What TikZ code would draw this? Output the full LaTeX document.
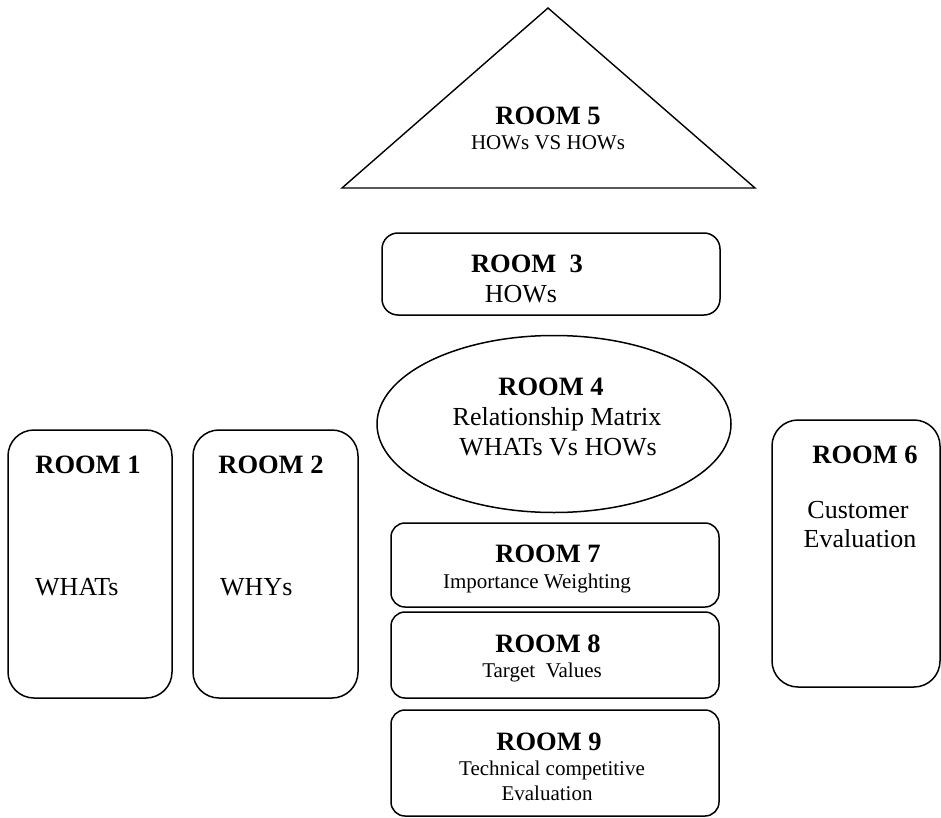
\documentclass[tikz,border=0pt]{standalone}
\usepackage{fontspec}
\setmainfont{Liberation Serif}
\usetikzlibrary{shapes.geometric}
\begin{document}
\begin{tikzpicture}[x=1pt,y=-1pt,
  room/.style={draw=black,line width=1.5pt,rounded corners=#1,inner sep=0pt},
  room/.default=14pt,
  ttl/.style={font=\fontsize{26.5}{30}\selectfont\bfseries,anchor=base,inner sep=0pt},
  big/.style={font=\fontsize{26}{30}\selectfont,anchor=base,inner sep=0pt},
  small/.style={font=\fontsize{21}{25}\selectfont,anchor=base,inner sep=0pt}]
\useasboundingbox (0,0) rectangle (941,818);
% shapes
\draw[line width=1.4pt,line join=miter] (548,8) coordinate (apex) -- (755,188) coordinate (br) -- (342,188) coordinate (bl) -- cycle;
\node[room=16pt,minimum width=338pt,minimum height=82pt] (r3) at (551,274) {};
\node[draw=black,line width=1.5pt,ellipse,minimum width=354pt,minimum height=177pt,inner sep=0pt] (r4) at (554,424) {};
\node[room=26pt,minimum width=164pt,minimum height=268pt] (r1) at (90,564) {};
\node[room=26pt,minimum width=165pt,minimum height=268pt] (r2) at (275.5,564) {};
\node[room=26pt,minimum width=168pt,minimum height=267pt] (r6) at (856,553.5) {};
\node[room,minimum width=328pt,minimum height=84pt] (r7) at (555,565) {};
\node[room,minimum width=328pt,minimum height=86pt] (r8) at (555,655) {};
\node[room,minimum width=328pt,minimum height=106pt] (r9) at (555,763) {};
% texts
\node[ttl] (t5) at (548,125) {ROOM 5};
\node[small] (t5b) at (548,150) {HOWs VS HOWs};
\node[ttl] (t3) at (527,272) {ROOM\ \ 3};
\node[big] (t3b) at (521,302) {HOWs};
\node[ttl] (t4) at (551,395) {ROOM 4};
\node[big] (t4b) at (557,425) {Relationship Matrix};
\node[big] (t4c) at (558,455) {WHATs Vs HOWs};
\node[ttl] (t1) at (88,473) {ROOM 1};
\node[big,anchor=base west] (t1b) at (35,595) {WHATs};
\node[ttl] (t2) at (271,473) {ROOM 2};
\node[big,anchor=base west] (t2b) at (220,595) {WHYs};
\node[ttl] (t6) at (865,463) {ROOM 6};
\node[big] (t6b) at (858,518) {Customer};
\node[big] (t6c) at (860,547) {Evaluation};
\node[ttl] (t7) at (548,562) {ROOM 7};
\node[small] (t7b) at (537,588) {Importance Weighting};
\node[ttl] (t8) at (548,652) {ROOM 8};
\node[small] (t8b) at (542,677) {Target\ \ Values};
\node[ttl] (t9) at (549,750) {ROOM 9};
\node[small] (t9b) at (552,775) {Technical competitive};
\node[small] (t9c) at (547,800) {Evaluation};
\end{tikzpicture}
\end{document}
